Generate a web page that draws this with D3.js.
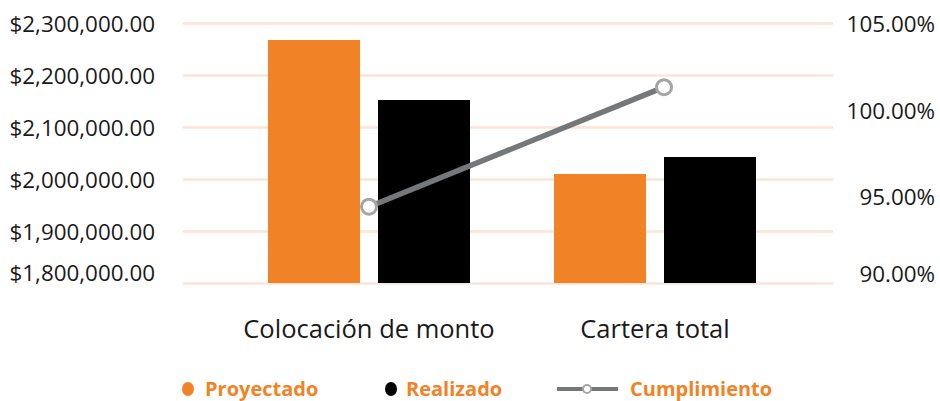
<!DOCTYPE html>
<html lang="es">
<head>
<meta charset="utf-8">
<title>Proyectado vs Realizado</title>
<script src="https://d3js.org/d3.v7.min.js"></script>
<style>
  body { margin: 0; background: #fff; font-family: "Open Sans", sans-serif; }
  .tick text { fill: #1a1a1a; }
</style>
</head>
<body>
<div id="chart"></div>
<script>
// data
var categories = ["Colocación de monto", "Cartera total"];
var series = ["Proyectado", "Realizado"];
var proyectado = [2267300, 2009600];
var realizado = [2151900, 2042300];
var cumplimiento = [0.944, 1.013];
var leftTicks = [1800000, 1900000, 2000000, 2100000, 2200000, 2300000];
var rightTicks = [0.90, 0.95, 1.00, 1.05];

var W = 940, H = 401;
var orange = "#f28226", black = "#000000", gray = "#75787b", grid = "#fce4d4";

var svg = d3.select("#chart").append("svg")
    .attr("width", W)
    .attr("height", H);

var yLeft = d3.scaleLinear().domain([1800000, 2300000]).range([283, 23]);
var yRight = d3.scaleLinear().domain([0.90, 1.05]).range([283, 23]);

var x0 = d3.scaleBand().domain(categories).range([226, 798]).padding(0);
var x1 = d3.scaleBand().domain(series).range([-101, 101]).paddingInner(0.1636).paddingOuter(0);
// line points sit a little right of the group centre in the original
var xLine = d3.scalePoint().domain(categories).range([369, 664]);

// gridlines
svg.append("g")
    .attr("transform", "translate(183,0)")
    .call(d3.axisRight(yLeft).tickValues(leftTicks).tickSize(650).tickFormat(""))
    .call(function(g){ g.select(".domain").remove() })
    .selectAll("line")
    .attr("stroke", grid)
    .attr("stroke-width", 2.5);

// left axis (lowest label sits a bit higher, as in the original)
svg.append("g")
    .attr("transform", "translate(155,0)")
    .call(d3.axisLeft(yLeft).tickValues(leftTicks).tickSize(0).tickPadding(0)
        .tickFormat(function(d){ return "$" + d3.format(",.2f")(d) }))
    .call(function(g){ g.select(".domain").remove() })
    .selectAll("text")
    .attr("font-family", "Open Sans")
    .attr("font-size", "22.4px")
    .attr("dy", function(d){ return d == 1800000 ? "-0.12em" : "0.38em" });

// right axis
svg.append("g")
    .attr("transform", "translate(935,0)")
    .call(d3.axisLeft(yRight).tickValues(rightTicks).tickSize(0).tickPadding(0)
        .tickFormat(d3.format(".2%")))
    .call(function(g){ g.select(".domain").remove() })
    .selectAll("text")
    .attr("font-family", "Open Sans")
    .attr("font-size", "22.4px")
    .attr("dy", function(d){ return d == 0.90 ? "-0.05em" : "0.38em" });

// bars
var color = d3.scaleOrdinal().domain(series).range([orange, black]);
var rows = categories.map(function(c, i){
    return {cat: c, vals: [
        {key: "Proyectado", v: proyectado[i]},
        {key: "Realizado", v: realizado[i]}
    ]};
});

svg.append("g")
    .selectAll("g")
    .data(rows)
    .enter()
    .append("g")
    .attr("transform", function(d){ return "translate(" + (x0(d.cat) + x0.bandwidth()/2) + ",0)" })
    .selectAll("rect")
    .data(function(d){ return d.vals })
    .enter()
    .append("rect")
    .attr("x", function(d){ return x1(d.key) })
    .attr("width", x1.bandwidth())
    .attr("y", function(d){ return yLeft(d.v) })
    .attr("height", function(d){ return yLeft.range()[0] - yLeft(d.v) })
    .attr("fill", function(d){ return color(d.key) });

// category labels
svg.append("g")
    .attr("transform", "translate(0,320)")
    .call(d3.axisBottom(x0).tickSize(0).tickPadding(0))
    .call(function(g){ g.select(".domain").remove() })
    .selectAll("text")
    .attr("font-family", "Open Sans")
    .attr("font-size", "25.5px")
    .attr("fill", "#1a1a1a");

// cumplimiento line
var line = d3.line()
    .x(function(d, i){ return xLine(categories[i]) })
    .y(function(d){ return yRight(d) });

svg.append("path")
    .datum(cumplimiento)
    .attr("d", line)
    .attr("fill", "none")
    .attr("stroke", gray)
    .attr("stroke-width", 5.5);

svg.selectAll(".pt")
    .data(cumplimiento)
    .enter()
    .append("circle")
    .attr("class", "pt")
    .attr("cx", function(d, i){ return xLine(categories[i]) })
    .attr("cy", function(d){ return yRight(d) })
    .attr("r", 7.5)
    .attr("fill", "#fff")
    .attr("stroke", "#a5a5a5")
    .attr("stroke-width", 3);

// legend
var ly = 389;
var legend = svg.append("g").attr("font-family", "Open Sans").attr("font-weight", "bold")
    .attr("font-size", "20px").attr("fill", orange);

legend.append("ellipse").attr("cx", 188).attr("cy", ly).attr("rx", 6).attr("ry", 7).attr("fill", orange);
legend.append("text").attr("x", 205).attr("y", ly).attr("dy", "0.36em").text("Proyectado");

legend.append("ellipse").attr("cx", 391).attr("cy", ly).attr("rx", 6).attr("ry", 7).attr("fill", black);
legend.append("text").attr("x", 406).attr("y", ly).attr("dy", "0.36em").text("Realizado");

legend.append("line").attr("x1", 557).attr("x2", 618).attr("y1", ly).attr("y2", ly)
    .attr("stroke", gray).attr("stroke-width", 4);
legend.append("circle").attr("cx", 587).attr("cy", ly).attr("r", 4)
    .attr("fill", "#fff").attr("stroke", "#a5a5a5").attr("stroke-width", 2);
legend.append("text").attr("x", 630).attr("y", ly).attr("dy", "0.36em").text("Cumplimiento");
</script>
</body>
</html>
